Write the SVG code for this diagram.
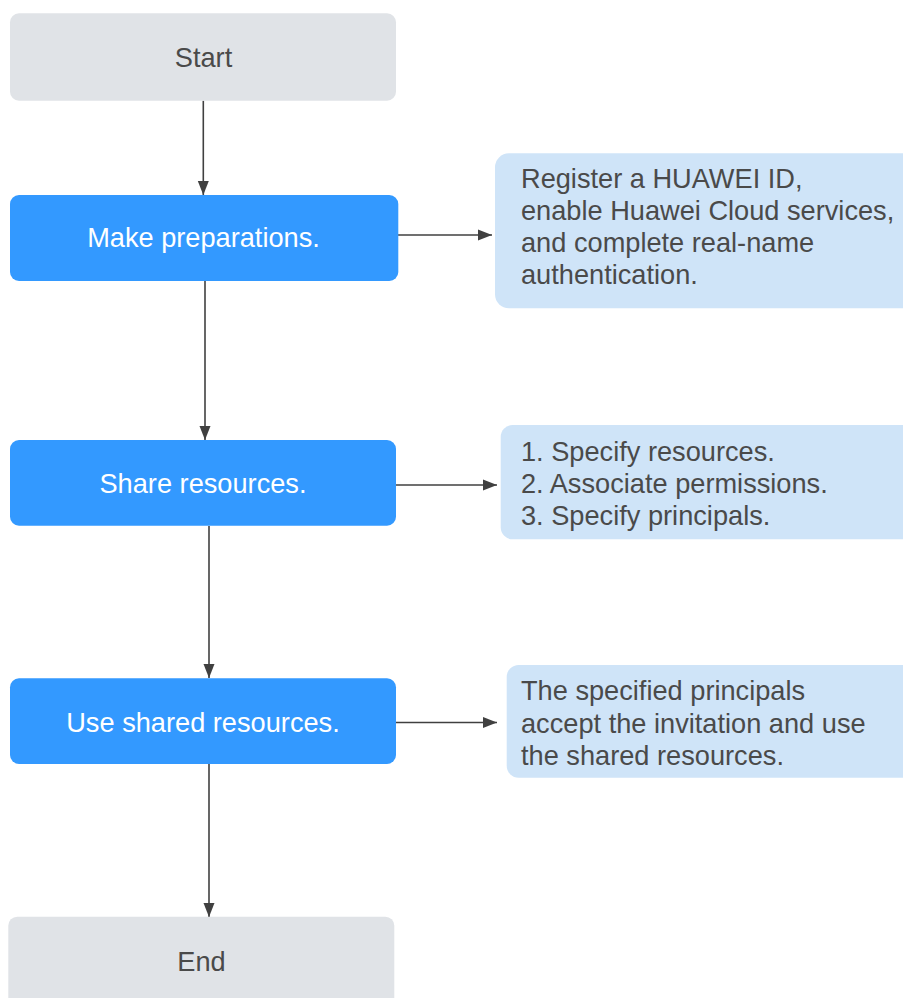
<svg xmlns="http://www.w3.org/2000/svg" width="903" height="998" viewBox="0 0 903 998">
<style>
.term{fill:#e0e3e7}
.step{fill:#3399ff}
.note{fill:#cfe4f8}
.t{font-family:"Liberation Sans",Arial,sans-serif;font-size:27.2px}
.tg{fill:#4a4a4a}
.tw{fill:#ffffff}
.c{fill:none;stroke:#404040;stroke-width:1.6}
</style>
<defs>
<marker id="ah" markerUnits="userSpaceOnUse" markerWidth="14" markerHeight="12" refX="14" refY="6" orient="auto">
<path d="M0,0.5 L14,6 L0,11.5 z" fill="#404040"/>
</marker>
</defs>
<rect width="903" height="998" fill="#ffffff"/>
<g id="connectors">
<line class="c" x1="203.3" y1="100.7" x2="203.3" y2="195" marker-end="url(#ah)"/>
<line class="c" x1="398" y1="235" x2="492" y2="235" marker-end="url(#ah)"/>
<line class="c" x1="205" y1="281" x2="205" y2="440" marker-end="url(#ah)"/>
<line class="c" x1="396" y1="485" x2="497" y2="485" marker-end="url(#ah)"/>
<line class="c" x1="209" y1="526" x2="209" y2="678" marker-end="url(#ah)"/>
<line class="c" x1="396" y1="722.5" x2="497" y2="722.5" marker-end="url(#ah)"/>
<line class="c" x1="209" y1="764" x2="209" y2="917" marker-end="url(#ah)"/>
</g>
<g id="start">
<rect class="term" x="10" y="13.3" width="386" height="87.4" rx="9"/>
<text class="t tg" x="203.5" y="66.5" text-anchor="middle">Start</text>
</g>
<g id="prep">
<rect class="step" x="10" y="195" width="388.3" height="86" rx="9"/>
<text class="t tw" x="203.5" y="247" text-anchor="middle">Make preparations.</text>
</g>
<g id="note-prep">
<rect class="note" x="495" y="153.3" width="430" height="155" rx="14"/>
<text class="t tg" x="521" y="188">Register a HUAWEI ID,</text>
<text class="t tg" x="521" y="220">enable Huawei Cloud services,</text>
<text class="t tg" x="521" y="252">and complete real-name</text>
<text class="t tg" x="521" y="284">authentication.</text>
</g>
<g id="share">
<rect class="step" x="10" y="440" width="386" height="85.7" rx="9"/>
<text class="t tw" x="203" y="492.7" text-anchor="middle">Share resources.</text>
</g>
<g id="note-share">
<rect class="note" x="500.7" y="425" width="430" height="114.3" rx="12"/>
<text class="t tg" x="521" y="460.5">1. Specify resources.</text>
<text class="t tg" x="521" y="493">2. Associate permissions.</text>
<text class="t tg" x="521" y="525">3. Specify principals.</text>
</g>
<g id="use">
<rect class="step" x="10" y="678.3" width="386" height="85.7" rx="9"/>
<text class="t tw" x="203" y="731.7" text-anchor="middle">Use shared resources.</text>
</g>
<g id="note-use">
<rect class="note" x="506.7" y="665" width="430" height="112.7" rx="12"/>
<text class="t tg" x="521" y="700">The specified principals</text>
<text class="t tg" x="521" y="732.5">accept the invitation and use</text>
<text class="t tg" x="521" y="765">the shared resources.</text>
</g>
<g id="end">
<rect class="term" x="8.3" y="916.7" width="386" height="100" rx="9"/>
<text class="t tg" x="201.5" y="970.7" text-anchor="middle">End</text>
</g>
</svg>
